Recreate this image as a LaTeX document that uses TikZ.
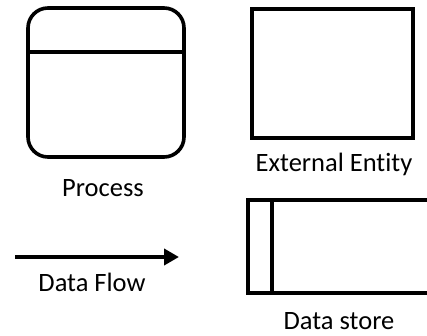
\documentclass[tikz,border=0pt]{standalone}
\usepackage{fontspec}
\setmainfont[Ligatures={NoCommon}]{Carlito}
\usetikzlibrary{arrows.meta}
\begin{document}
\begin{tikzpicture}[x=1pt,y=-1pt,
  symline/.style={draw=black,line width=3.6pt},
  lbl/.style={font=\fontsize{26.5}{30}\selectfont,text=black,inner sep=0pt},
  flow/.style={line width=4pt,-{Triangle[length=15pt,width=16pt]}}]
\useasboundingbox (0,0) rectangle (427,336);
% process symbol: rounded box with a header band
\draw[symline,rounded corners=20pt] (28,8) rectangle (184,157);
\coordinate (pl) at (28,52);
\coordinate (pr) at (184,52);
\draw[symline] (pl) -- (pr);
\node[lbl] (proc) at (103,188) {Process};
% external entity
\draw[symline,line width=4.2pt] (252,9) rectangle (413,138);
\node[lbl] (ext) at (334,164) {External Entity};
% data store: open-ended box with a side divider
\coordinate (ds1) at (432,200);
\coordinate (ds2) at (248,200);
\coordinate (ds3) at (248,293);
\coordinate (ds4) at (432,293);
\draw[symline,line width=4.2pt] (ds1) -- (ds2) -- (ds3) -- (ds4);
\coordinate (dt) at (272,200);
\coordinate (db) at (272,293);
\draw[symline,line width=4.2pt] (dt) -- (db);
\node[lbl] (store) at (339,321.5) {Data store};
% data flow arrow
\coordinate (fa) at (15,257);
\coordinate (fb) at (179,257);
\draw[flow] (fa) -- (fb);
\node[lbl] (flowlbl) at (92,282) {Data Flow};
\end{tikzpicture}
\end{document}
